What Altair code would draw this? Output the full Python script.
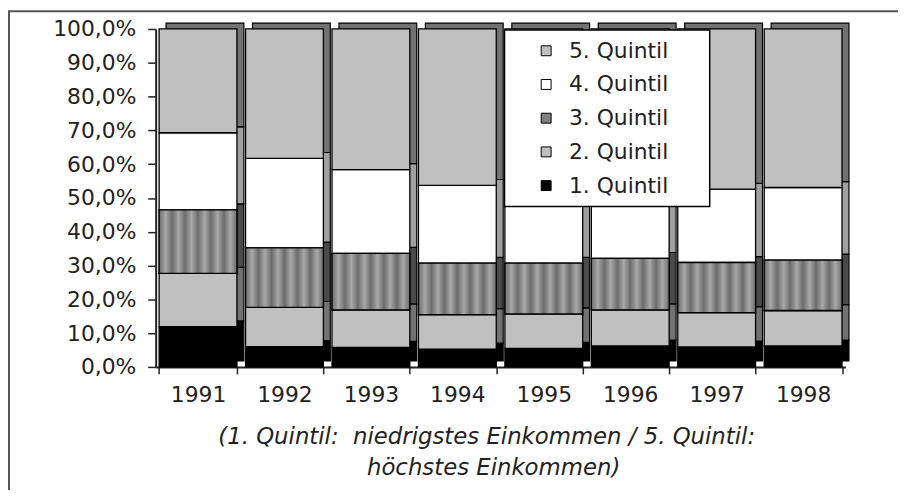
import altair as alt
import pandas as pd

years = ["1991", "1992", "1993", "1994", "1995", "1996", "1997", "1998"]
names = ["1. Quintil", "2. Quintil", "3. Quintil", "4. Quintil", "5. Quintil"]
q1 = [11.9, 6.0, 5.8, 5.3, 5.5, 6.2, 5.9, 6.2]
q2 = [15.8, 11.6, 11.1, 10.2, 10.2, 10.7, 10.2, 10.5]
q3 = [18.8, 17.6, 16.7, 15.2, 15.0, 15.2, 14.8, 14.9]
q4 = [22.8, 26.5, 24.8, 23.0, 22.4, 21.5, 21.7, 21.5]
q5 = [30.7, 38.3, 41.6, 46.3, 46.9, 46.4, 47.4, 46.9]
series = [q1, q2, q3, q4, q5]
y_ticks = [0, 10, 20, 30, 40, 50, 60, 70, 80, 90, 100]
note1 = "(1. Quintil:\u00a0 niedrigstes Einkommen / 5. Quintil:"
note2 = "höchstes Einkommen)"

rows = []
for i, yr in enumerate(years):
    for qn, (nm, vals) in enumerate(zip(names, series), start=1):
        rows.append({"year": yr, "quintil": nm, "qn": qn, "value": vals[i]})
df = pd.DataFrame(rows)

legend_order = names[::-1]
front_colors = ["#c0c0c0", "#ffffff", "#808080", "#c0c0c0", "#000000"]
side_colors = ["#727272", "#a0a0a0", "#4a4a4a", "#727272", "#000000"]

FONT = "DejaVu Sans"
TXT = "#222222"

base = alt.Chart(df).transform_stack(
    stack="value", groupby=["year"], as_=["y0", "y1"],
    sort=[alt.SortField("qn", order="ascending")]
)

xenc = alt.X(
    "year:N",
    scale=alt.Scale(paddingInner=0.1, paddingOuter=0.04),
    axis=alt.Axis(title=None, labelAngle=0, tickBand="extent", tickSize=7,
                  labelPadding=11, domainWidth=2, tickWidth=1.5),
)
yenc = alt.Y(
    "y0:Q",
    scale=alt.Scale(domain=[0, 100], nice=False),
    axis=alt.Axis(title=None, values=y_ticks, tickSize=8, labelPadding=12,
                  domainWidth=2, tickWidth=1.5, grid=False,
                  labelExpr="replace(format(datum.value, '.1f'), '.', ',') + '%'"),
)

back = base.mark_bar(xOffset=7, yOffset=-6, y2Offset=-6, stroke="#000000", strokeWidth=1.2).encode(
    x=xenc, y=yenc, y2="y1:Q",
    fill=alt.Fill("quintil:N", scale=alt.Scale(domain=legend_order, range=side_colors), legend=None),
)

front = base.mark_bar(xOffset=0, stroke="#000000", strokeWidth=1.3).encode(
    x=xenc, y=yenc, y2="y1:Q",
    fill=alt.Fill(
        "quintil:N",
        scale=alt.Scale(domain=legend_order, range=front_colors),
        legend=alt.Legend(
            title="MM", titleOrient="right", titleColor="#ffffff", titleFontSize=16,
            titlePadding=0, titleFont=FONT,
            orient="none", legendX=352, legendY=1,
            fillColor="#ffffff", strokeColor="#000000", padding=10,
            symbolType="square", symbolSize=100, symbolStrokeColor="#000000",
            symbolStrokeWidth=1, symbolOffset=21, labelFontSize=22, labelFont=FONT,
            labelColor=TXT, rowPadding=12, labelOffset=12,
        ),
    ),
)

n = 6
stops = []
for k in range(2 * n + 1):
    stops.append(alt.GradientStop(offset=k / (2 * n), color="#6c6c6c" if k % 2 == 0 else "#a8a8a8"))
stripe_fill = alt.LinearGradient(gradient="linear", stops=stops, x1=0, x2=1, y1=0, y2=0)

stripes = base.transform_filter(alt.datum.qn == 3).mark_bar(
    xOffset=0, fill=stripe_fill, stroke="#000000", strokeWidth=1.3
).encode(x=xenc, y=yenc, y2="y1:Q")

frame_data = alt.Data(values=[{"k": 0}])
left_line = alt.Chart(frame_data).mark_rule(color="#555555", strokeWidth=2).encode(
    x=alt.value(-148), y=alt.value(-18), y2=alt.value(480)
)
top_line = alt.Chart(frame_data).mark_rule(color="#555555", strokeWidth=2).encode(
    x=alt.value(-149), x2=alt.value(760), y=alt.value(-18)
)

note_line1 = alt.Chart(alt.Data(values=[{"t": note1}])).mark_text(
    font=FONT, fontSize=23, fontStyle="italic", color=TXT, align="center", baseline="middle"
).encode(text="t:N", x=alt.value(334), y=alt.value(412))
note_line2 = alt.Chart(alt.Data(values=[{"t": note2}])).mark_text(
    font=FONT, fontSize=23, fontStyle="italic", color=TXT, align="center", baseline="middle"
).encode(text="t:N", x=alt.value(341), y=alt.value(443))

chart = alt.layer(back, front, stripes, left_line, top_line, note_line1, note_line2).resolve_scale(
    fill="independent"
).properties(
    width=696, height=341,
    autosize=alt.AutoSizeParams(type="none"),
    padding={"left": 149, "top": 19, "right": 53, "bottom": 122},
).configure_view(stroke=None).configure_axis(
    labelFont=FONT, labelFontSize=22, labelColor=TXT,
    domainColor="#222222", tickColor="#222222",
).configure_legend(strokeWidth=1.5)

chart.save("out.html", embed_options={"renderer": "svg", "actions": False})
